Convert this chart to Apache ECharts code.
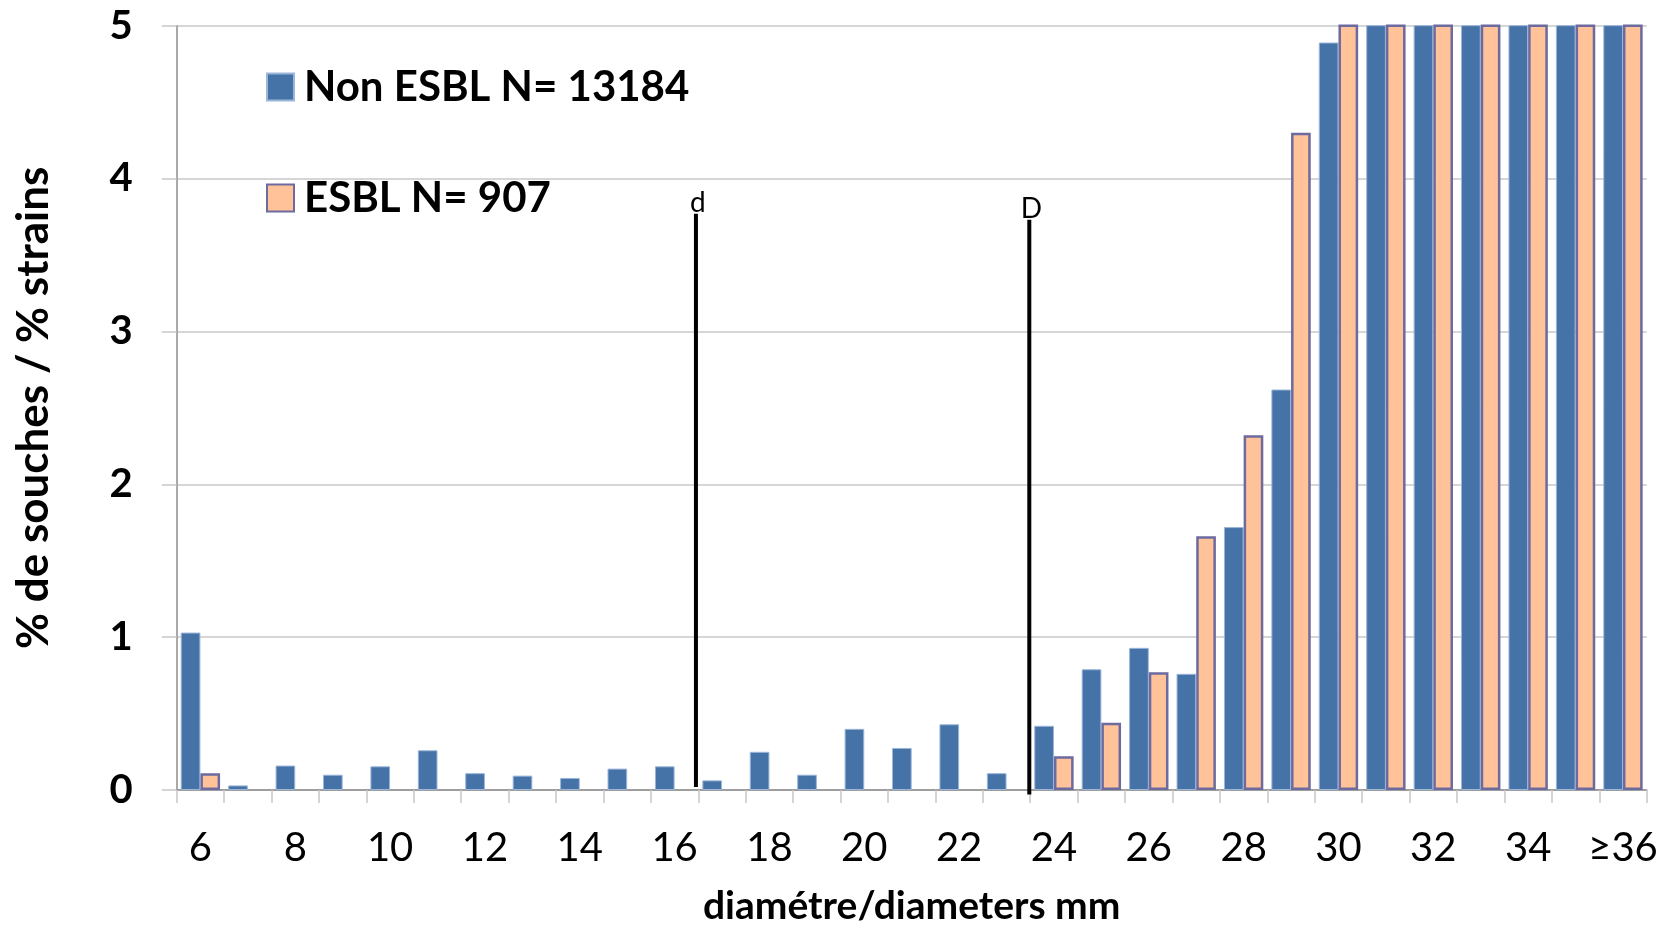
<!DOCTYPE html>
<html>
<head>
<meta charset="utf-8">
<script src="https://cdn.jsdelivr.net/npm/echarts@6/dist/echarts.min.js"></script>
<style>
html,body{margin:0;padding:0;background:#fff;overflow:hidden;}
#chart{width:1666px;height:925px;}
</style>
</head>
<body>
<div id="chart"></div>
<script>
const categories = ['6','7','8','9','10','11','12','13','14','15','16','17','18','19','20','21','22','23','24','25','26','27','28','29','30','31','32','33','34','35','≥36'];
const nonEsbl = [1.03,0.03,0.16,0.10,0.155,0.26,0.11,0.094,0.079,0.14,0.155,0.063,0.25,0.10,0.40,0.275,0.43,0.11,0.42,0.79,0.93,0.76,1.72,2.62,4.89,7.5,10.2,12.8,13.5,11.9,21.0];
const esbl = [0.11,0,0,0,0,0,0,0,0,0,0,0,0,0,0,0,0,0,0.22,0.44,0.77,1.66,2.32,4.30,6.4,8.9,10.7,11.3,10.1,8.2,12.6];
const seriesNames = ['Non ESBL N= 13184','ESBL N= 907'];
const yTicks = [0,1,2,3,4,5];
// breakpoint markers (diameter in mm), drawn on a hidden value axis aligned with the categories
const markerX = [16.45, 23.48];
const markerLabels = ['d','D'];
const markerTop = [3.77, 3.73];
const markerBottom = [0.02, -0.03];

const FONT = 'Lato';
const chart = echarts.init(document.getElementById('chart'));

const markerSeries = markerX.map((x, i) => ({
  type: 'line',
  xAxisIndex: 1,
  clip: false,
  silent: true,
  lineStyle: {color: '#000', width: 4, cap: 'butt'},
  symbol: 'circle',
  symbolSize: 0,
  animation: false,
  data: [
    [x, markerBottom[i]],
    {value: [x, markerTop[i]], label: {show: true, position: 'top', distance: -3, offset: [2, 0], formatter: markerLabels[i], color: '#000', fontFamily: FONT, fontSize: 28}}
  ]
}));

chart.setOption({
  animation: false,
  grid: {left: 176.7, right: 19.3, top: 25.7, bottom: 135, outerBoundsMode: 'none', containLabel: false},
  legend: [
    {data: [seriesNames[0]], left: 266, top: 66, padding: 0, icon: 'rect', itemWidth: 27, itemHeight: 27, itemGap: 14,
     textStyle: {fontFamily: FONT, fontWeight: 'bold', fontSize: 42, color: '#000', padding: [0,0,0,5]}},
    {data: [seriesNames[1]], left: 266, top: 177, padding: 0, icon: 'rect', itemWidth: 27, itemHeight: 27, itemGap: 14,
     textStyle: {fontFamily: FONT, fontWeight: 'bold', fontSize: 42, color: '#000', padding: [0,0,0,5]}}
  ],
  xAxis: [
    {
      type: 'category',
      data: categories,
      name: 'diamétre/diameters mm',
      nameLocation: 'middle',
      nameGap: 97,
      nameTextStyle: {fontFamily: FONT, fontWeight: 'bold', fontSize: 39, color: '#000'},
      axisLine: {show: true, lineStyle: {color: '#8c8c8c', width: 1.5}},
      axisTick: {show: true, interval: 0, length: 13, lineStyle: {color: '#c8c8c8', width: 1.5}},
      axisLabel: {interval: 1, margin: 38, fontFamily: FONT, fontSize: 40, color: '#000'},
      splitLine: {show: false}
    },
    {
      type: 'value',
      min: 5.5,
      max: 36.5,
      show: false
    }
  ],
  yAxis: {
    type: 'value',
    min: yTicks[0],
    max: yTicks[yTicks.length - 1],
    interval: 1,
    name: '% de souches / % strains',
    nameLocation: 'middle',
    nameGap: 121,
    nameTextStyle: {fontFamily: FONT, fontWeight: 'bold', fontSize: 44, color: '#000'},
    axisLine: {show: true, lineStyle: {color: '#8c8c8c', width: 1.5}},
    axisTick: {show: true, length: 15, lineStyle: {color: '#c8c8c8', width: 1.5}},
    axisLabel: {margin: 44, fontFamily: FONT, fontWeight: 'bold', fontSize: 40, color: '#000'},
    splitLine: {show: true, lineStyle: {color: '#c8c8c8', width: 1.5}}
  },
  series: [
    {
      name: seriesNames[0],
      type: 'bar',
      data: nonEsbl,
      barGap: '0%',
      barCategoryGap: '17%',
      itemStyle: {color: '#4572a7', borderColor: '#9cb6da', borderWidth: 1}
    },
    {
      name: seriesNames[1],
      type: 'bar',
      data: esbl.map(v => v === 0 ? {value: 0, itemStyle: {borderWidth: 0}} : v),
      barGap: '0%',
      barCategoryGap: '17%',
      itemStyle: {color: '#ffc299', borderColor: '#6c6a9e', borderWidth: 2.5}
    },
    ...markerSeries
  ]
});
</script>
</body>
</html>
